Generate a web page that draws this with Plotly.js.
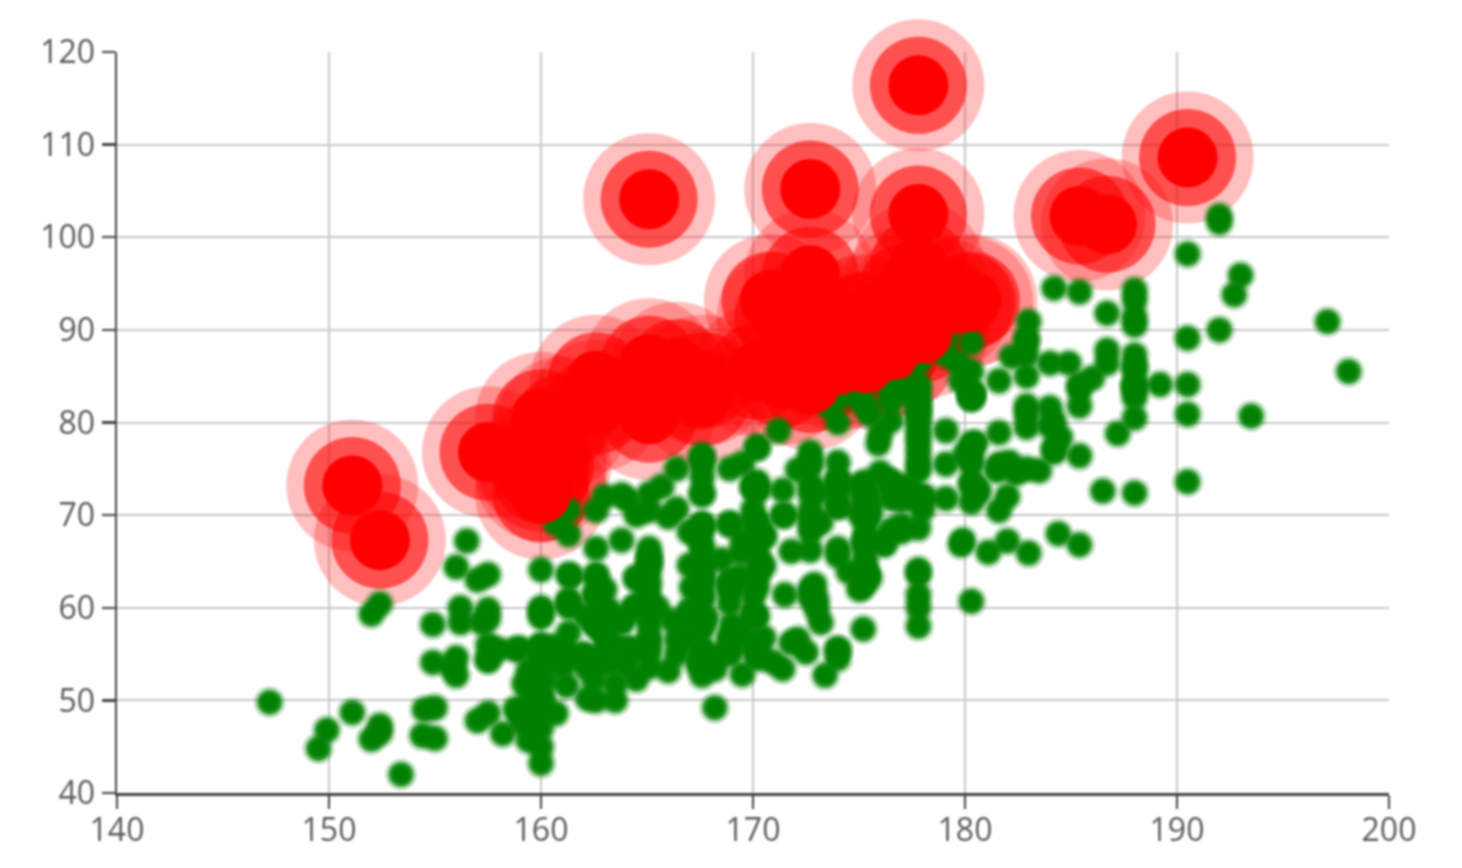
<!DOCTYPE html>
<html>
<head>
<meta charset="utf-8">
<script src="https://cdn.plot.ly/plotly-3.0.1.min.js"></script>
<style>
html,body{margin:0;padding:0;background:#fff;overflow:hidden}
#chart{width:1462px;height:868px;filter:blur(0.9px)}
</style>
</head>
<body>
<div id="chart"></div>
<script>
const groupA = [
[161.2,51.6],[167.5,59.0],[159.5,49.2],[157.0,63.0],[155.8,53.6],[170.0,59.0],[159.1,47.6],[166.0,69.8],[176.2,66.8],[160.2,75.2],
[172.5,55.2],[170.9,54.2],[172.9,62.5],[153.4,42.0],[160.0,50.0],[147.2,49.8],[168.2,49.2],[175.0,73.2],[157.0,47.8],[167.6,68.8],
[159.5,50.6],[175.0,82.5],[166.8,57.2],[176.5,87.8],[170.2,72.8],[174.0,54.5],[173.0,59.8],[179.9,67.3],[170.5,67.8],[160.0,47.0],
[154.4,46.2],[162.0,55.0],[176.5,83.0],[160.0,54.4],[152.0,45.8],[162.1,53.6],[170.0,73.2],[160.2,52.1],[161.3,67.9],[166.4,56.6],
[168.9,62.3],[163.8,58.5],[167.6,54.5],[160.0,50.2],[161.3,60.3],[167.6,58.3],[165.1,56.2],[160.0,50.2],[170.0,72.9],[157.5,59.8],
[167.6,61.0],[160.7,69.1],[163.2,55.9],[152.4,46.5],[157.5,54.3],[168.3,54.8],[180.3,60.7],[165.5,60.0],[165.0,62.0],[164.5,60.3],
[156.0,52.7],[160.0,74.3],[163.0,62.0],[165.7,73.1],[161.0,80.0],[162.0,54.7],[166.0,53.2],[174.0,75.7],[172.7,61.1],[167.6,55.7],
[151.1,48.7],[164.5,52.3],[163.5,50.0],[152.0,59.3],[169.0,62.5],[164.0,55.7],[161.2,54.8],[155.0,45.9],[170.0,70.6],[176.2,67.2],
[170.0,69.4],[162.5,58.2],[170.3,64.8],[164.1,71.6],[169.5,52.8],[163.2,59.8],[154.5,49.0],[159.8,50.0],[173.2,69.2],[170.0,55.9],
[161.4,63.4],[169.0,58.2],[166.2,58.6],[159.4,45.7],[162.5,52.2],[159.0,48.6],[162.8,57.8],[159.0,55.6],[179.8,66.8],[162.9,59.4],
[161.0,53.6],[151.1,73.2],[168.2,53.4],[168.9,69.0],[173.2,58.4],[171.8,56.2],[178.0,70.6],[164.3,59.8],[163.0,72.0],[168.5,65.2],
[166.8,56.6],[172.7,105.2],[163.5,51.8],[169.4,63.4],[167.8,59.0],[159.5,47.6],[167.6,63.0],[161.2,55.2],[160.0,45.0],[163.2,54.0],
[162.2,50.2],[161.3,60.2],[149.5,44.8],[157.5,58.8],[163.2,56.4],[172.7,62.0],[155.0,49.2],[156.5,67.2],[164.0,53.8],[160.9,54.4],
[162.8,58.0],[167.0,59.8],[160.0,54.8],[160.0,43.2],[168.9,60.5],[158.2,46.4],[156.0,64.4],[160.0,48.8],[167.1,62.2],[158.0,55.5],
[167.6,57.8],[156.0,54.6],[162.1,59.2],[173.4,52.7],[159.8,53.2],[170.5,64.5],[159.2,51.8],[157.5,56.0],[161.3,63.6],[162.6,63.2],
[160.0,59.5],[168.9,56.8],[165.1,64.1],[162.6,50.0],[165.1,72.3],[166.4,55.0],[160.0,55.9],[152.4,60.4],[170.2,69.1],[162.6,84.5],
[170.2,55.9],[158.8,55.5],[172.7,69.5],[167.6,76.4],[162.6,61.4],[167.6,65.9],[156.2,58.4],[175.2,66.8],[172.1,56.6],[162.6,58.6],
[160.0,55.9],[165.1,59.1],[182.9,81.8],[166.4,70.7],[165.1,56.8],[177.8,60.0],[165.1,58.2],[175.3,72.7],[154.9,54.1],[158.8,49.1],
[172.7,75.9],[168.9,55.0],[161.3,57.3],[167.6,55.0],[165.1,65.5],[175.3,65.5],[157.5,48.6],[163.8,58.6],[167.6,63.6],[165.1,55.2],
[165.1,62.7],[168.9,56.6],[162.6,53.9],[164.5,63.2],[176.5,73.6],[168.9,62.0],[175.3,63.6],[159.4,53.2],[160.0,53.4],[170.2,55.0],
[162.6,70.5],[167.6,54.5],[162.6,54.5],[160.7,55.9],[160.0,59.0],[157.5,63.6],[162.6,54.5],[152.4,47.3],[170.2,67.7],[165.1,80.9],
[172.7,70.5],[165.1,60.9],[170.2,63.6],[170.2,54.5],[170.2,59.1],[161.3,70.5],[167.6,52.7],[167.6,62.7],[165.1,86.3],[162.6,66.4],
[152.4,67.3],[168.9,63.0],[170.2,73.6],[175.2,62.3],[175.2,57.7],[160.0,55.4],[165.1,104.1],[174.0,55.5],[170.2,77.3],[160.0,80.5],
[167.6,64.5],[167.6,72.3],[167.6,61.4],[154.9,58.2],[162.6,81.8],[175.3,63.6],[171.4,53.4],[157.5,54.5],[165.1,53.6],[160.0,60.0],
[174.0,73.6],[162.6,61.4],[174.0,55.5],[162.6,63.6],[161.3,60.9],[156.2,60.0],[149.9,46.8],[169.5,57.3],[160.0,64.1],[175.3,63.6],
[169.5,67.3],[160.0,75.5],[172.7,68.2],[162.6,61.4],[157.5,76.8],[176.5,71.8],[164.4,55.5],[160.7,48.6],[174.0,66.4],[163.8,67.3]
];
const groupB = [
[174.0,65.6],[175.3,71.8],[193.5,80.7],[186.5,72.6],[187.2,78.8],[181.5,74.8],[184.0,86.4],[184.5,78.4],[175.0,62.0],[184.0,81.6],
[180.0,76.6],[177.8,83.6],[192.0,90.0],[176.0,74.6],[174.0,71.0],[184.0,79.6],[192.7,93.8],[171.5,70.0],[173.0,72.4],[176.0,85.9],
[176.0,78.8],[180.5,77.8],[172.7,66.2],[176.0,86.4],[173.5,81.8],[178.0,89.6],[180.3,82.8],[180.3,76.4],[164.5,63.2],[173.0,60.9],
[183.5,74.8],[175.5,70.0],[188.0,72.4],[189.2,84.1],[172.8,69.1],[170.0,59.5],[182.0,67.2],[170.0,61.3],[177.8,68.6],[184.2,80.1],
[186.7,87.8],[171.4,84.7],[172.7,73.4],[175.3,72.1],[180.3,82.6],[182.9,88.7],[188.0,84.1],[177.2,94.1],[172.1,74.9],[167.0,59.1],
[169.5,75.6],[174.0,86.2],[172.7,75.3],[182.2,87.1],[164.1,55.2],[163.0,57.0],[171.5,61.4],[184.2,76.8],[174.0,86.8],[174.0,72.2],
[177.0,71.6],[186.0,84.8],[167.0,68.2],[171.8,66.1],[182.0,72.0],[167.0,64.6],[177.8,74.8],[164.5,70.0],[192.0,101.6],[175.5,63.2],
[171.2,79.1],[181.6,78.9],[167.4,67.7],[181.1,66.0],[177.0,68.2],[174.5,63.9],[177.5,72.0],[170.5,56.8],[182.4,74.5],[197.1,90.9],
[180.1,93.0],[175.5,80.9],[180.6,72.7],[184.4,68.0],[175.5,70.9],[180.6,72.5],[177.0,72.5],[177.1,83.4],[181.6,75.5],[176.5,73.0],
[175.0,70.2],[174.0,73.4],[165.1,70.5],[177.0,68.9],[192.0,102.3],[176.5,68.4],[169.4,65.9],[182.1,75.7],[179.8,84.5],[175.3,87.7],
[184.9,86.4],[177.3,73.2],[167.4,53.9],[178.1,72.0],[168.9,55.5],[157.2,58.4],[180.3,83.2],[170.2,72.7],[177.8,64.1],[172.7,72.3],
[165.1,65.0],[186.7,86.4],[165.1,65.0],[174.0,88.6],[175.3,84.1],[185.4,66.8],[177.8,75.5],[180.3,93.2],[180.3,82.7],[177.8,58.0],
[177.8,79.5],[177.8,78.6],[177.8,71.8],[177.8,116.4],[163.8,72.2],[188.0,83.6],[198.1,85.5],[175.3,90.9],[166.4,85.9],[190.5,89.1],
[166.4,75.0],[177.8,77.7],[179.7,86.4],[172.7,90.9],[190.5,73.6],[185.4,76.4],[168.9,69.1],[167.6,84.5],[175.3,64.5],[170.2,69.1],
[190.5,108.6],[177.8,86.4],[190.5,80.9],[177.8,87.7],[184.2,94.5],[176.5,80.2],[177.8,72.0],[180.3,71.4],[171.4,72.7],[172.7,84.1],
[172.7,76.8],[177.8,63.6],[177.8,80.9],[182.9,80.9],[170.2,85.5],[167.6,68.6],[175.3,67.7],[165.1,66.4],[185.4,102.3],[181.6,70.5],
[172.7,95.9],[190.5,84.1],[179.1,87.3],[175.3,71.8],[170.2,65.9],[193.0,95.9],[171.4,91.4],[177.8,81.8],[177.8,96.8],[167.6,69.1],
[167.6,82.7],[180.3,75.5],[182.9,79.5],[176.5,73.6],[186.7,91.8],[188.0,84.1],[188.0,85.9],[177.8,81.8],[174.0,82.5],[177.8,80.5],
[171.4,70.0],[185.4,81.8],[185.4,84.1],[188.0,90.5],[188.0,91.4],[182.9,89.1],[176.5,85.0],[175.3,69.1],[175.3,73.6],[188.0,80.5],
[188.0,82.7],[175.3,86.4],[170.5,67.7],[179.1,92.7],[177.8,93.6],[175.3,70.9],[182.9,75.0],[170.8,93.2],[188.0,93.2],[180.3,77.7],
[177.8,61.4],[185.4,94.1],[168.9,75.0],[185.4,83.6],[180.3,85.5],[174.0,73.9],[167.6,66.8],[182.9,87.3],[160.0,72.3],[180.3,88.6],
[167.6,75.5],[186.7,101.4],[175.3,91.1],[175.3,67.3],[175.9,77.7],[175.3,81.8],[179.1,75.5],[181.6,84.5],[177.8,76.6],[182.9,85.0],
[177.8,102.5],[184.2,77.3],[179.1,71.8],[176.5,87.9],[188.0,94.3],[174.0,70.9],[167.6,64.5],[170.2,77.3],[167.6,72.3],[188.0,87.3],
[174.0,80.0],[176.5,82.3],[180.3,73.6],[167.6,74.1],[188.0,85.9],[180.3,73.2],[167.6,76.3],[183.0,65.9],[183.0,90.9],[179.1,89.1],
[170.2,62.3],[177.8,82.7],[179.1,79.1],[190.5,98.2],[177.8,84.1],[180.3,83.2],[180.3,83.2]
];
const xTicks = [140,150,160,170,180,190,200];
const yTicks = [40,50,60,70,80,90,100,110,120];
const redLimit = 28;

const all = groupA.concat(groupB);
const isRed = p => p[1] / Math.pow(p[0] / 100, 2) >= redLimit;
const red = all.filter(isRed);
const green = all.filter(p => !isRed(p));

function layer(points, color, size, opacity) {
  return {
    type: 'scatter', mode: 'markers', hoverinfo: 'skip', showlegend: false, cliponaxis: false,
    x: points.map(p => p[0]), y: points.map(p => p[1]),
    marker: {color: color, size: size, opacity: opacity, line: {width: 0}}
  };
}

const traces = [
  layer(red, '#ff0000', 132, 0.25),
  layer(red, '#ff0000', 97, 0.58),
  layer(green, '#008000', 32, 0.22),
  layer(green, '#008000', 27, 0.35),
  layer(green, '#008000', 23, 0.75),
  layer(green, '#008000', 17, 1),
  layer(red, '#ff0000', 60, 1)
];

const axisCommon = {
  showgrid: true, gridcolor: '#c8c8c8', gridwidth: 2, zeroline: false,
  showline: true, linecolor: '#444444', linewidth: 2.5,
  ticks: 'outside', ticklen: 13, tickwidth: 2.4, tickcolor: '#444444',
  tickfont: {family: '"Open Sans", "Noto Sans", sans-serif', size: 32, color: '#5a5a5a'},
  fixedrange: true, automargin: false
};

Plotly.newPlot('chart', traces, {
  width: 1462, height: 868,
  margin: {l: 117, r: 73, t: 52, b: 75, pad: 0},
  paper_bgcolor: '#ffffff', plot_bgcolor: '#ffffff',
  showlegend: false, hovermode: false,
  xaxis: Object.assign({}, axisCommon, {range: [140, 200], tickmode: 'array', tickvals: xTicks, ticktext: xTicks.map(String), ticklabelstandoff: -6}),
  yaxis: Object.assign({}, axisCommon, {range: [40, 120], tickmode: 'array', tickvals: yTicks, ticktext: yTicks.map(String)})
}, {displayModeBar: false, staticPlot: true});
</script>
</body>
</html>
